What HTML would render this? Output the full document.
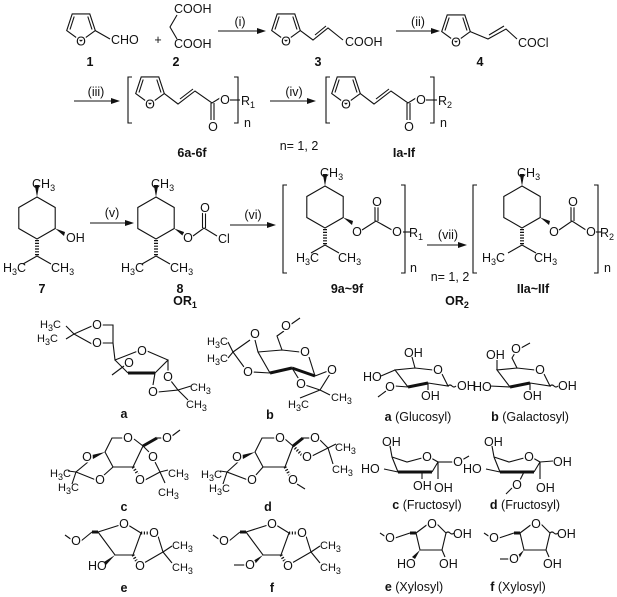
<!DOCTYPE html>
<html><head><meta charset="utf-8">
<style>
html,body{margin:0;padding:0;background:#fff;}
svg{display:block;}
text{font-family:"Liberation Sans",Arial,sans-serif;font-size:12.5px;fill:#111;}
.h{stroke:#fff;stroke-width:3px;paint-order:stroke;stroke-linejoin:round;}
.b{font-weight:bold;}
.s{font-size:9px;}
line,polyline,polygon.r,path{stroke:#111;stroke-width:1.1;fill:none;}
.w{stroke-width:3;}
.f{fill:#111;stroke:none;}
.hs{stroke-dasharray:1.2 1.6;stroke-width:4;}
</style></head><body>
<svg width="617" height="597" viewBox="0 0 617 597" xmlns="http://www.w3.org/2000/svg">
<defs>
<g id="fu">
<polygon class="r" points="0,15 -14.3,4.6 -8.8,-12.1 8.8,-12.1 14.3,4.6"/>
<line x1="-11" y1="3.5" x2="-6.8" y2="-9.5"/>
<line x1="6.8" y1="-9.5" x2="11" y2="3.5"/>
</g>
<g id="me">
<polygon class="r" points="0,-21 18.2,-10.5 18.2,10.5 0,21 -18.2,10.5 -18.2,-10.5"/>
<polygon class="f" points="0,-21 -2.2,-33 2.2,-33"/>
<line class="hs" x1="0" y1="22" x2="0" y2="38"/>
<polyline points="-14,46 0,38 14,46"/>
<polygon class="f" points="18.2,10.5 28,14 27,18"/>
</g>
</defs>

<!-- Row 1 -->
<use href="#fu" x="81" y="26"/><text class="h" x="81" y="45.5" text-anchor="middle">O</text>
<line x1="95.3" y1="30.6" x2="110" y2="39"/>
<text x="111" y="44">CHO</text>
<text x="90" y="66" class="b" text-anchor="middle">1</text>
<text x="158" y="44" text-anchor="middle">+</text>
<polyline points="177,15 170,27 177,39"/>
<text x="174" y="13">COOH</text>
<text x="174" y="48">COOH</text>
<text x="176" y="66" class="b" text-anchor="middle">2</text>
<line x1="218" y1="31" x2="258" y2="31"/><polygon class="f" points="266,31 257,28 257,34"/>
<text x="240" y="26" text-anchor="middle">(i)</text>

<use href="#fu" x="286" y="26"/><text class="h" x="286" y="45.5" text-anchor="middle">O</text>
<polyline points="300.3,30.6 313,40 328,28 343,40"/><line x1="315" y1="35" x2="326" y2="26"/>
<text x="345" y="46">COOH</text>
<text x="318" y="66" class="b" text-anchor="middle">3</text>
<line x1="396" y1="31" x2="432" y2="31"/><polygon class="f" points="440,31 431,28 431,34"/>
<text x="418" y="26" text-anchor="middle">(ii)</text>

<use href="#fu" x="456" y="27"/><text class="h" x="456" y="46.5" text-anchor="middle">O</text>
<polyline points="470.3,31.6 488,39 506,29 517,39"/><line x1="489" y1="35" x2="504" y2="26"/>
<text x="518" y="47">COCl</text>
<text x="480" y="66" class="b" text-anchor="middle">4</text>

<!-- Row 2 -->
<line x1="74" y1="101" x2="112" y2="101"/><polygon class="f" points="120,101 111,98 111,104"/>
<text x="96" y="96" text-anchor="middle">(iii)</text>
<polyline points="132,77 128,77 128,123 132,123"/>
<use href="#fu" x="150" y="89"/><text class="h" x="150" y="108.5" text-anchor="middle">O</text>
<polyline points="164.3,93.6 178,104 195,91 212,103 220,98"/><line x1="180" y1="99" x2="193" y2="89"/>
<line x1="211" y1="103" x2="211" y2="120"/><line x1="214" y1="103" x2="214" y2="120"/>
<text class="h" x="213" y="131" text-anchor="middle">O</text>
<text class="h" x="225" y="104" text-anchor="middle">O</text>
<line x1="230" y1="100" x2="240" y2="100"/>
<polyline points="234,77 238,77 238,123 234,123"/>
<text x="241" y="105">R<tspan class="s" dy="3">1</tspan></text>
<text x="244" y="127">n</text>
<text x="192" y="157" class="b" text-anchor="middle">6a-6f</text>
<line x1="270" y1="101" x2="308" y2="101"/><polygon class="f" points="316,101 307,98 307,104"/>
<text x="294" y="96" text-anchor="middle">(iv)</text>
<text x="299" y="150" text-anchor="middle">n= 1, 2</text>

<polyline points="330,77 326,77 326,123 330,123"/>
<use href="#fu" x="346" y="89"/><text class="h" x="346" y="108.5" text-anchor="middle">O</text>
<polyline points="360.3,93.6 374,104 391,91 408,103 416,98"/><line x1="376" y1="99" x2="389" y2="89"/>
<line x1="407" y1="103" x2="407" y2="120"/><line x1="410" y1="103" x2="410" y2="120"/>
<text class="h" x="409" y="131" text-anchor="middle">O</text>
<text class="h" x="421" y="104" text-anchor="middle">O</text>
<line x1="426" y1="100" x2="437" y2="100"/>
<polyline points="430,77 434,77 434,123 430,123"/>
<text x="438" y="105">R<tspan class="s" dy="3">2</tspan></text>
<text x="440" y="127">n</text>
<text x="404" y="157" class="b" text-anchor="middle">Ia-If</text>

<!-- Row 3 -->
<use href="#me" x="37" y="218"/>
<text x="32" y="188">CH<tspan class="s" dy="3">3</tspan></text>
<text x="66" y="242">OH</text>
<text x="3" y="272">H<tspan class="s" dy="3">3</tspan><tspan dy="-3">C</tspan></text>
<text x="51" y="272">CH<tspan class="s" dy="3">3</tspan></text>
<text x="42" y="293" class="b" text-anchor="middle">7</text>
<line x1="90" y1="223" x2="126" y2="223"/><polygon class="f" points="134,223 125,220 125,226"/>
<text x="112" y="217" text-anchor="middle">(v)</text>

<use href="#me" x="156" y="218"/>
<text x="151" y="188">CH<tspan class="s" dy="3">3</tspan></text>
<text class="h" x="188" y="242" text-anchor="middle">O</text>
<polyline points="193,236 204,228 217,236"/>
<line x1="202.5" y1="228" x2="202.5" y2="212"/><line x1="205.5" y1="228" x2="205.5" y2="212"/>
<text class="h" x="205" y="212" text-anchor="middle">O</text>
<text x="218" y="243">Cl</text>
<text x="121" y="272">H<tspan class="s" dy="3">3</tspan><tspan dy="-3">C</tspan></text>
<text x="170" y="272">CH<tspan class="s" dy="3">3</tspan></text>
<text x="180" y="293" class="b" text-anchor="middle">8</text>
<text x="185" y="305" class="b" text-anchor="middle">OR<tspan class="s" dy="3">1</tspan></text>
<line x1="230" y1="225" x2="268" y2="225"/><polygon class="f" points="276,225 267,222 267,228"/>
<text x="253" y="219" text-anchor="middle">(vi)</text>

<polyline points="287,185 283,185 283,273 287,273"/>
<use href="#me" x="325" y="207"/>
<text x="320" y="177">CH<tspan class="s" dy="3">3</tspan></text>
<text class="h" x="357" y="236" text-anchor="middle">O</text>
<polyline points="362,230 376,221 392,230"/>
<line x1="375" y1="221" x2="375" y2="206"/><line x1="378" y1="221" x2="378" y2="206"/>
<text class="h" x="377" y="206" text-anchor="middle">O</text>
<text class="h" x="397" y="236" text-anchor="middle">O</text>
<line x1="403" y1="232" x2="410" y2="232"/>
<polyline points="401,185 405,185 405,273 401,273"/>
<text x="409" y="237">R<tspan class="s" dy="3">1</tspan></text>
<text x="410" y="272">n</text>
<text x="296" y="262">H<tspan class="s" dy="3">3</tspan><tspan dy="-3">C</tspan></text>
<text x="338" y="262">CH<tspan class="s" dy="3">3</tspan></text>
<text x="347" y="293" class="b" text-anchor="middle">9a~9f</text>
<line x1="427" y1="245" x2="459" y2="245"/><polygon class="f" points="467,245 458,242 458,248"/>
<text x="448" y="239" text-anchor="middle">(vii)</text>
<text x="450" y="281" text-anchor="middle">n= 1, 2</text>

<polyline points="477,185 473,185 473,273 477,273"/>
<use href="#me" x="522" y="207"/>
<text x="517" y="177">CH<tspan class="s" dy="3">3</tspan></text>
<text class="h" x="554" y="236" text-anchor="middle">O</text>
<polyline points="559,230 572,221 586,230"/>
<line x1="571" y1="221" x2="571" y2="206"/><line x1="574" y1="221" x2="574" y2="206"/>
<text class="h" x="573" y="206" text-anchor="middle">O</text>
<text class="h" x="591" y="236" text-anchor="middle">O</text>
<line x1="596" y1="232" x2="601" y2="232"/>
<polyline points="594,185 598,185 598,273 594,273"/>
<text x="600" y="237">R<tspan class="s" dy="3">2</tspan></text>
<text x="604" y="272">n</text>
<text x="482" y="262">H<tspan class="s" dy="3">3</tspan><tspan dy="-3">C</tspan></text>
<text x="534" y="262">CH<tspan class="s" dy="3">3</tspan></text>
<text x="533" y="293" class="b" text-anchor="middle">IIa~IIf</text>
<text x="457" y="305" class="b" text-anchor="middle">OR<tspan class="s" dy="3">2</tspan></text>

<!-- sugar a -->
<polyline points="66,326 74,334 92,326"/><polyline points="66,339 74,334 92,344"/>
<text x="40" y="328" style="font-size:11px">H<tspan class="s" dy="3">3</tspan><tspan dy="-3">C</tspan></text>
<text x="37" y="342" style="font-size:11px">H<tspan class="s" dy="3">3</tspan><tspan dy="-3">C</tspan></text>
<polyline points="102,325 113,325 113,343 102,343"/>
<text class="h" x="97" y="329" text-anchor="middle">O</text>
<text class="h" x="97" y="347" text-anchor="middle">O</text>
<polyline points="113,343 115,360 138,351"/><polyline points="147,351 168,360 155,373"/>
<line class="w" x1="155" y1="373" x2="128" y2="373"/><line x1="128" y1="373" x2="115" y2="360"/>
<text class="h" x="142" y="355" text-anchor="middle">O</text>
<line x1="124" y1="366" x2="112" y2="375"/><text class="h" x="129" y="367" text-anchor="middle">O</text>
<line x1="168" y1="360" x2="168" y2="372"/><line x1="155" y1="373" x2="153" y2="385"/>
<polyline points="171,381 178,390 158,392"/><polyline points="191,386 178,390 188,400"/>
<text class="h" x="168" y="381" text-anchor="middle">O</text>
<text class="h" x="153" y="396" text-anchor="middle">O</text>
<text x="190" y="391" style="font-size:11px">CH<tspan class="s" dy="3">3</tspan></text>
<text x="186" y="408" style="font-size:11px">CH<tspan class="s" dy="3">3</tspan></text>
<text x="124" y="418" class="b" text-anchor="middle">a</text>

<!-- sugar b -->
<polyline points="228,342 233,352 250,340"/><polyline points="228,358 233,352 244,367"/>
<text x="207" y="345" style="font-size:11px">H<tspan class="s" dy="3">3</tspan><tspan dy="-3">C</tspan></text>
<text x="207" y="362" style="font-size:11px">H<tspan class="s" dy="3">3</tspan><tspan dy="-3">C</tspan></text>
<polyline points="255,340 258,352 270,373"/><line x1="252" y1="372" x2="270" y2="373"/>
<line class="w" x1="270" y1="373" x2="292" y2="368"/><line class="w" x1="292" y1="368" x2="315" y2="376"/>
<polyline points="315,376 309,357"/><polyline points="300,352 282,350 258,352"/>
<polyline points="282,350 277,336 284,331"/><line x1="290" y1="325" x2="300" y2="318"/>
<text class="h" x="255" y="338" text-anchor="middle">O</text>
<text class="h" x="248" y="376" text-anchor="middle">O</text>
<text class="h" x="305" y="356" text-anchor="middle">O</text>
<text class="h" x="286" y="330" text-anchor="middle">O</text>
<polyline points="292,368 300,381"/><polyline points="315,376 328,371"/>
<polyline points="305,385 320,390 330,374"/><line x1="320" y1="390" x2="300" y2="398"/><line x1="320" y1="390" x2="330" y2="395"/>
<text class="h" x="301" y="388" text-anchor="middle">O</text>
<text class="h" x="332" y="374" text-anchor="middle">O</text>
<text x="331" y="401" style="font-size:11px">CH<tspan class="s" dy="3">3</tspan></text>
<text x="288" y="408" style="font-size:11px">H<tspan class="s" dy="3">3</tspan><tspan dy="-3">C</tspan></text>
<text x="270" y="419" class="b" text-anchor="middle">b</text>

<!-- glucosyl -->
<polyline points="433,370 415,368 395,370 408,387"/><line class="w" x1="408" y1="387" x2="428" y2="383"/>
<polyline points="428,383 448,386 442,374"/><line x1="415" y1="368" x2="412" y2="357"/>
<line x1="428" y1="383" x2="428" y2="390"/><path d="M448,386 q2,-2 4,0 q2,2 4,0"/>
<line x1="381" y1="376" x2="395" y2="370"/><line x1="408" y1="387" x2="395" y2="386"/><line x1="386" y1="391" x2="378" y2="397"/>
<text class="h" x="438" y="374" text-anchor="middle">O</text>
<text x="404" y="357">OH</text>
<text x="363" y="381">HO</text>
<text class="h" x="390" y="391" text-anchor="middle">O</text>
<text x="421" y="400">OH</text>
<text x="457" y="390">OH</text>
<text x="418" y="421" text-anchor="middle"><tspan class="b">a</tspan> (Glucosyl)</text>

<!-- galactosyl -->
<polyline points="535,370 517,368 497,370 510,387"/><line class="w" x1="510" y1="387" x2="530" y2="383"/>
<polyline points="530,383 550,386 544,374"/><polyline points="517,368 512,358 515,353"/>
<line x1="521" y1="348" x2="530" y2="343"/><line x1="497" y1="370" x2="497" y2="360"/>
<line x1="530" y1="383" x2="530" y2="390"/><path d="M550,386 q2,-2 4,0 q2,2 4,0"/><line x1="490" y1="386" x2="510" y2="387"/>
<text class="h" x="540" y="374" text-anchor="middle">O</text>
<text class="h" x="516" y="353" text-anchor="middle">O</text>
<text x="486" y="359">OH</text>
<text x="473" y="391">HO</text>
<text x="523" y="400">OH</text>
<text x="558" y="390">OH</text>
<text x="530" y="421" text-anchor="middle"><tspan class="b">b</tspan> (Galactosyl)</text>

<!-- sugar c -->
<polyline points="123,438 112,438 105,452 113,467"/><line x1="113" y1="467" x2="133" y2="467"/>
<polyline points="133,467 143,446 134,439"/><polygon class="f" points="105,452 92,455 93,459"/>
<line x1="113" y1="467" x2="103" y2="476"/><polyline points="88,462 76,472 96,480"/>
<line x1="76" y1="472" x2="68" y2="471"/><line x1="76" y1="472" x2="72" y2="484"/>
<line class="w" x1="143" y1="446" x2="157" y2="438"/><line x1="157" y1="438" x2="163" y2="438"/><line x1="172" y1="436" x2="180" y2="430"/>
<line x1="143" y1="446" x2="151" y2="454"/><line class="hs" x1="133" y1="467" x2="139" y2="476" style="stroke-width:3"/>
<polyline points="155,462 160,472 145,480"/><line x1="160" y1="472" x2="168" y2="470"/><line x1="160" y1="472" x2="165" y2="483"/>
<text class="h" x="128" y="442" text-anchor="middle">O</text>
<text class="h" x="167" y="442" text-anchor="middle">O</text>
<text class="h" x="87" y="461" text-anchor="middle">O</text>
<text class="h" x="100" y="484" text-anchor="middle">O</text>
<text class="h" x="153" y="461" text-anchor="middle">O</text>
<text class="h" x="140" y="484" text-anchor="middle">O</text>
<text x="50" y="477" style="font-size:11px">H<tspan class="s" dy="3">3</tspan><tspan dy="-3">C</tspan></text>
<text x="58" y="491" style="font-size:11px">H<tspan class="s" dy="3">3</tspan><tspan dy="-3">C</tspan></text>
<text x="168" y="477" style="font-size:11px">CH<tspan class="s" dy="3">3</tspan></text>
<text x="158" y="496" style="font-size:11px">CH<tspan class="s" dy="3">3</tspan></text>
<text x="124" y="511" class="b" text-anchor="middle">c</text>

<!-- sugar d -->
<polyline points="275,438 262,438 255,452 263,467"/><line x1="263" y1="467" x2="285" y2="467"/>
<polyline points="285,467 293,446 285,439"/><polygon class="f" points="255,452 242,455 243,459"/>
<line x1="263" y1="467" x2="255" y2="476"/><polyline points="238,462 227,472 248,480"/>
<line x1="227" y1="472" x2="220" y2="471"/><line x1="227" y1="472" x2="223" y2="484"/>
<line class="w" x1="293" y1="446" x2="303" y2="438"/><line x1="303" y1="438" x2="310" y2="438"/>
<polyline points="320,440 328,448 312,456"/><line class="hs" x1="293" y1="446" x2="302" y2="455" style="stroke-width:3"/>
<line x1="328" y1="448" x2="336" y2="444"/><line x1="328" y1="448" x2="333" y2="464"/>
<line class="hs" x1="285" y1="467" x2="290" y2="476" style="stroke-width:3"/><line x1="297" y1="484" x2="305" y2="489"/>
<text class="h" x="280" y="442" text-anchor="middle">O</text>
<text class="h" x="315" y="442" text-anchor="middle">O</text>
<text class="h" x="307" y="461" text-anchor="middle">O</text>
<text class="h" x="237" y="461" text-anchor="middle">O</text>
<text class="h" x="252" y="484" text-anchor="middle">O</text>
<text class="h" x="293" y="484" text-anchor="middle">O</text>
<text x="201" y="478" style="font-size:11px">H<tspan class="s" dy="3">3</tspan><tspan dy="-3">C</tspan></text>
<text x="209" y="492" style="font-size:11px">H<tspan class="s" dy="3">3</tspan><tspan dy="-3">C</tspan></text>
<text x="335" y="451" style="font-size:11px">CH<tspan class="s" dy="3">3</tspan></text>
<text x="332" y="473" style="font-size:11px">CH<tspan class="s" dy="3">3</tspan></text>
<text x="268" y="511" class="b" text-anchor="middle">d</text>

<!-- fructosyl c -->
<polyline points="390,446 392,457 407,462 422,458"/><polyline points="431,458 438,462 432,472"/>
<line class="w" x1="432" y1="472" x2="398" y2="472"/><line x1="398" y1="472" x2="392" y2="457"/>
<line x1="384" y1="469" x2="398" y2="472"/><line x1="422" y1="472" x2="422" y2="479"/><line x1="438" y1="462" x2="438" y2="479"/>
<polyline points="438,462 450,462 454,462"/><line x1="462" y1="460" x2="469" y2="456"/>
<text class="h" x="427" y="461" text-anchor="middle">O</text>
<text class="h" x="458" y="466" text-anchor="middle">O</text>
<text x="382" y="446">OH</text>
<text x="361" y="473">HO</text>
<text x="413" y="490">OH</text>
<text x="434" y="492">OH</text>
<text x="427" y="509" text-anchor="middle"><tspan class="b">c</tspan> (Fructosyl)</text>

<!-- fructosyl d -->
<polyline points="492,446 494,457 509,462 524,458"/><polyline points="533,458 540,462 534,472"/>
<line class="w" x1="534" y1="472" x2="500" y2="472"/><line x1="500" y1="472" x2="494" y2="457"/>
<line x1="486" y1="469" x2="500" y2="472"/><line x1="524" y1="472" x2="520" y2="480"/><line x1="540" y1="462" x2="540" y2="479"/>
<line x1="540" y1="462" x2="553" y2="461"/><line x1="512" y1="488" x2="506" y2="494"/>
<text class="h" x="529" y="461" text-anchor="middle">O</text>
<text class="h" x="517" y="489" text-anchor="middle">O</text>
<text x="484" y="446">OH</text>
<text x="463" y="473">HO</text>
<text x="553" y="466">OH</text>
<text x="536" y="492">OH</text>
<text x="525" y="509" text-anchor="middle"><tspan class="b">d</tspan> (Fructosyl)</text>

<!-- e -->
<line x1="65" y1="535" x2="72" y2="540"/><line x1="81" y1="541" x2="92" y2="532"/>
<line class="w" x1="92" y1="532" x2="98" y2="532"/>
<polyline points="98,532 120,525"/><polyline points="128,525 141,533 133,555 115,555 98,532"/>
<polygon class="f" points="115,555 104,562 106,565"/>
<line class="hs" x1="141" y1="533" x2="150" y2="533" style="stroke-width:3"/><line class="hs" x1="133" y1="555" x2="137" y2="562" style="stroke-width:3"/>
<polyline points="158,536 163,552 144,563"/><line x1="163" y1="552" x2="172" y2="546"/><line x1="163" y1="552" x2="172" y2="563"/>
<text class="h" x="76" y="545" text-anchor="middle">O</text>
<text class="h" x="124" y="528" text-anchor="middle">O</text>
<text class="h" x="154" y="537" text-anchor="middle">O</text>
<text class="h" x="140" y="570" text-anchor="middle">O</text>
<text x="88" y="570">HO</text>
<text x="172" y="549" style="font-size:11px">CH<tspan class="s" dy="3">3</tspan></text>
<text x="172" y="571" style="font-size:11px">CH<tspan class="s" dy="3">3</tspan></text>
<text x="124" y="592" class="b" text-anchor="middle">e</text>

<!-- f -->
<line x1="213" y1="535" x2="220" y2="540"/><line x1="229" y1="541" x2="240" y2="532"/>
<line class="w" x1="240" y1="532" x2="246" y2="532"/>
<polyline points="246,532 268,525"/><polyline points="276,525 289,533 281,555 263,555 246,532"/>
<polygon class="f" points="263,555 253,561 255,564"/><line x1="245" y1="565" x2="234" y2="565"/>
<line class="hs" x1="289" y1="533" x2="298" y2="533" style="stroke-width:3"/><line class="hs" x1="281" y1="555" x2="285" y2="562" style="stroke-width:3"/>
<polyline points="306,536 311,552 292,563"/><line x1="311" y1="552" x2="320" y2="546"/><line x1="311" y1="552" x2="320" y2="563"/>
<text class="h" x="224" y="545" text-anchor="middle">O</text>
<text class="h" x="272" y="528" text-anchor="middle">O</text>
<text class="h" x="302" y="537" text-anchor="middle">O</text>
<text class="h" x="288" y="570" text-anchor="middle">O</text>
<text class="h" x="250" y="569" text-anchor="middle">O</text>
<text x="320" y="549" style="font-size:11px">CH<tspan class="s" dy="3">3</tspan></text>
<text x="320" y="571" style="font-size:11px">CH<tspan class="s" dy="3">3</tspan></text>
<text x="272" y="592" class="b" text-anchor="middle">f</text>

<!-- xylosyl e -->
<line x1="380" y1="533" x2="386" y2="537"/><line x1="395" y1="538" x2="410" y2="533"/><line class="w" x1="410" y1="533" x2="416" y2="533"/>
<polyline points="416,533 428,524"/><polyline points="437,524 446,533 442,550 420,550 416,533"/>
<path d="M446,533 q2,-2 4,0 q2,2 4,0"/>
<polygon class="f" points="420,550 412,557 415,559"/><line x1="442" y1="550" x2="445" y2="557"/>
<text class="h" x="432" y="528" text-anchor="middle">O</text>
<text class="h" x="390" y="542" text-anchor="middle">O</text>
<text x="453" y="538">OH</text>
<text x="397" y="568">HO</text>
<text x="439" y="568">OH</text>
<text x="414" y="591" text-anchor="middle"><tspan class="b">e</tspan> (Xylosyl)</text>

<!-- xylosyl f -->
<line x1="484" y1="533" x2="490" y2="537"/><line x1="499" y1="538" x2="514" y2="533"/><line class="w" x1="514" y1="533" x2="520" y2="533"/>
<polyline points="520,533 532,524"/><polyline points="541,524 550,533 546,550 524,550 520,533"/>
<path d="M550,533 q2,-2 4,0 q2,2 4,0"/>
<polygon class="f" points="524,550 517,556 519,559"/><line x1="510" y1="559" x2="500" y2="559"/><line x1="546" y1="550" x2="549" y2="557"/>
<text class="h" x="536" y="528" text-anchor="middle">O</text>
<text class="h" x="494" y="542" text-anchor="middle">O</text>
<text class="h" x="514" y="563" text-anchor="middle">O</text>
<text x="557" y="538">OH</text>
<text x="543" y="568">OH</text>
<text x="518" y="591" text-anchor="middle"><tspan class="b">f</tspan> (Xylosyl)</text>
</svg>
</body></html>
